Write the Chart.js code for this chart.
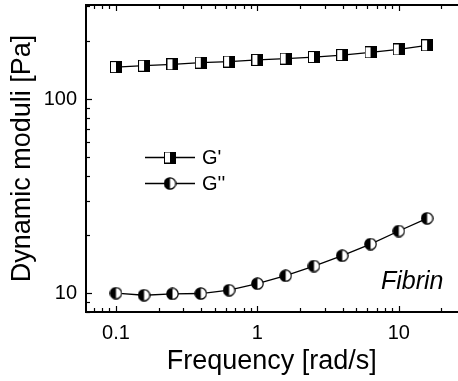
<!DOCTYPE html>
<html><head><meta charset="utf-8">
<script src="https://cdn.jsdelivr.net/npm/chart.js@4/dist/chart.umd.min.js"></script>
<style>html,body{margin:0;padding:0;background:#fff}#wrap{width:458px;height:381px;position:relative}</style>
</head><body><div id="wrap"><canvas id="c"></canvas></div>
<script>
const frequencies = [0.1, 0.158, 0.251, 0.398, 0.631, 1, 1.585, 2.512, 3.981, 6.31, 10, 15.85];
const gPrime = [146, 148.5, 151, 154, 156, 159, 161.5, 164.5, 168.5, 174, 180, 189];
const gDoublePrime = [10.0, 9.76, 9.92, 9.96, 10.36, 11.2, 12.3, 13.8, 15.6, 17.9, 20.9, 24.3];
const xTickLabels = [0.1, 1, 10];
const yTickLabels = [10, 100];
const seriesNames = ["G'", "G''"];
const xTitle = 'Frequency [rad/s]';
const yTitle = 'Dynamic moduli [Pa]';
const annotation = 'Fibrin';

const FONT = 'Arial, "Liberation Sans", sans-serif';

function squareMarker() {
  const s = 12, c = document.createElement('canvas');
  c.width = s; c.height = s;
  const g = c.getContext('2d');
  g.fillStyle = '#000'; g.fillRect(0, 0, s, s);
  g.fillStyle = '#fff'; g.fillRect(1, 1, 5, s - 2);
  return c;
}
function circleMarker() {
  const s = 13, c = document.createElement('canvas');
  c.width = s; c.height = s;
  const g = c.getContext('2d');
  const r = 5.7, cx = s / 2, cy = s / 2;
  g.fillStyle = '#fff';
  g.beginPath(); g.arc(cx, cy, r, 0, Math.PI * 2); g.fill();
  g.fillStyle = '#000';
  g.beginPath(); g.arc(cx, cy, r, Math.PI / 2, Math.PI * 1.5); g.closePath(); g.fill();
  g.strokeStyle = '#000'; g.lineWidth = 1.2;
  g.beginPath(); g.arc(cx, cy, r, 0, Math.PI * 2); g.stroke();
  return c;
}
const sq = squareMarker(), ci = circleMarker();

const framePlugin = {
  id: 'frame',
  afterDraw(chart) {
    const { ctx, chartArea: a, scales: { x, y } } = chart;
    ctx.save();
    ctx.strokeStyle = '#000';
    ctx.lineWidth = 1.2;
    const line = (x1, y1, x2, y2) => { ctx.beginPath(); ctx.moveTo(x1, y1); ctx.lineTo(x2, y2); ctx.stroke(); };
    for (let d = -2; d <= 2; d++) for (let m = 1; m <= 9; m++) {
      const v = m * Math.pow(10, d);
      if (v < x.min || v > x.max) continue;
      const px = Math.round(x.getPixelForValue(v)) + 0.5;
      const L = m === 1 ? 6 : 4;
      line(px, a.bottom, px, a.bottom - L);
      line(px, a.top, px, a.top + L);
    }
    for (let d = 0; d <= 3; d++) for (let m = 1; m <= 9; m++) {
      const v = m * Math.pow(10, d);
      if (v < y.min || v > y.max) continue;
      const py = Math.round(y.getPixelForValue(v)) + 0.5;
      const L = m === 1 ? 6 : 4;
      line(a.left, py, a.left + L, py);
    }
    ctx.lineWidth = 2;
    line(a.left, a.top, a.left, a.bottom + 1);
    line(a.left - 1, a.bottom, chart.width, a.bottom);
    line(a.left - 1, a.top, chart.width, a.top);

    // legend
    const lx = a.left + 59, ly = [a.top + 152, a.top + 178];
    const mk = [sq, ci];
    ctx.lineWidth = 1.3;
    ctx.fillStyle = '#000';
    ctx.font = '20px ' + FONT;
    ctx.textBaseline = 'middle';
    ctx.textAlign = 'left';
    for (let i = 0; i < 2; i++) {
      line(lx, ly[i] + 0.5, lx + 50, ly[i] + 0.5);
      ctx.drawImage(mk[i], lx + 25 - mk[i].width / 2, ly[i] - mk[i].height / 2 + 0.5);
      ctx.fillText(seriesNames[i], lx + 57, ly[i] + 1);
    }
    // annotation
    ctx.font = 'italic 25px ' + FONT;
    ctx.textAlign = 'right';
    ctx.textBaseline = 'alphabetic';
    ctx.fillText(annotation, a.right - 14, a.bottom - 23);
    ctx.restore();
  }
};

const chart = new Chart(document.getElementById('c'), {
  type: 'line',
  data: {
    datasets: [
      { label: seriesNames[0], data: frequencies.map((f, i) => ({ x: f, y: gPrime[i] })),
        borderColor: '#000', borderWidth: 1.3, pointStyle: sq, pointRadius: 0.5, pointBorderWidth: 0,
        pointHoverRadius: 0.5, tension: 0, clip: 8 },
      { label: seriesNames[1], data: frequencies.map((f, i) => ({ x: f, y: gDoublePrime[i] })),
        borderColor: '#000', borderWidth: 1.3, pointStyle: ci, pointRadius: 0.5, pointBorderWidth: 0,
        pointHoverRadius: 0.5, tension: 0, clip: 8 }
    ]
  },
  options: {
    responsive: true, maintainAspectRatio: false, animation: false,
    layout: { padding: { top: 5, right: 0, left: 0, bottom: 0 } },
    plugins: { legend: { display: false }, tooltip: { enabled: false } },
    scales: {
      x: {
        type: 'logarithmic', min: 0.0614, max: 26,
        afterBuildTicks: s => { s.ticks = xTickLabels.map(v => ({ value: v })); },
        afterFit: s => { s.height = 69; s.paddingLeft = 0; s.paddingRight = 0; },
        ticks: { callback: v => String(v), color: '#000', font: { family: FONT, size: 20 }, padding: 9, maxRotation: 0, autoSkip: false },
        grid: { display: false, drawTicks: false },
        border: { display: false },
        title: { display: true, text: xTitle, color: '#000', font: { family: FONT, size: 27 }, padding: { top: 0, bottom: 3 } }
      },
      y: {
        type: 'logarithmic', min: 8, max: 305,
        afterBuildTicks: s => { s.ticks = yTickLabels.map(v => ({ value: v })); },
        afterFit: s => { s.width = 86; s.paddingTop = 0; s.paddingBottom = 0; },
        ticks: { callback: v => String(v), color: '#000', font: { family: FONT, size: 20 }, padding: 9, autoSkip: false },
        grid: { display: false, drawTicks: false },
        border: { display: false },
        title: { display: true, text: yTitle, color: '#000', font: { family: FONT, size: 27 }, padding: { top: 6, bottom: 0 } }
      }
    }
  },
  plugins: [framePlugin]
});
</script>
</body></html>
